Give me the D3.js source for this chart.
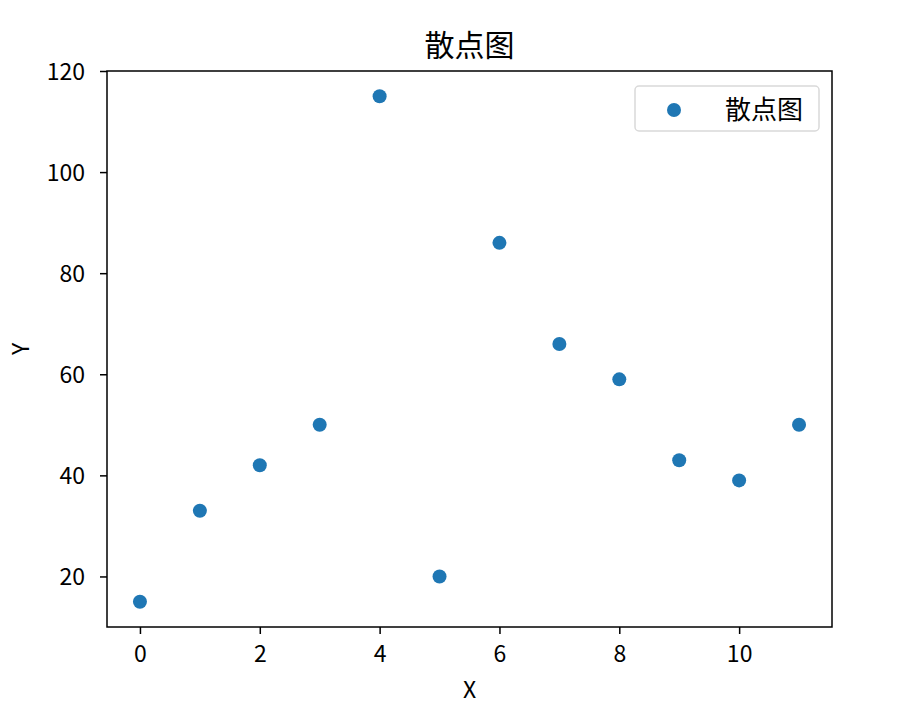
<!DOCTYPE html>
<html>
<head>
<meta charset="utf-8">
<script src="https://cdn.jsdelivr.net/npm/d3@7"></script>
<style>
  body { margin: 0; background: #fff; }
  svg { font-family: "Noto Sans CJK SC", "DejaVu Sans", sans-serif; }
</style>
</head>
<body>
<svg id="chart"></svg>
<script>
const xValues = [0, 1, 2, 3, 4, 5, 6, 7, 8, 9, 10, 11];
const yValues = [15, 33, 42, 50, 115, 20, 86, 66, 59, 43, 39, 50];
const xTicks = [0, 2, 4, 6, 8, 10];
const yTicks = [20, 40, 60, 80, 100, 120];
const seriesName = '散点图';

const width = 904, height = 705;
const margin = { top: 71, right: 72, bottom: 78, left: 107 };
const innerW = width - margin.left - margin.right;
const innerH = height - margin.top - margin.bottom;
const color = '#1f77b4';

const svg = d3.select('#chart')
  .attr('width', width)
  .attr('height', height);

const g = svg.append('g')
  .attr('transform', `translate(${margin.left},${margin.top})`);

const x = d3.scaleLinear().domain([-0.55, 11.55]).range([0, innerW]);
const y = d3.scaleLinear().domain([10, 120]).range([innerH, 0]);

const xAxis = g.append('g')
  .attr('transform', `translate(0,${innerH})`)
  .call(d3.axisBottom(x).tickValues(xTicks).tickSize(7).tickPadding(12).tickFormat(d3.format('d')));

const yAxis = g.append('g')
  .call(d3.axisLeft(y).tickValues(yTicks).tickSize(7).tickPadding(15).tickFormat(d3.format('d')));

[xAxis, yAxis].forEach(a => {
  a.select('.domain').remove();
  a.selectAll('line').attr('stroke', '#000').attr('stroke-width', 1.5);
  a.selectAll('text').attr('fill', '#000').style('font-size', '23px')
    .style('font-family', '"Noto Sans CJK SC", sans-serif');
});
yAxis.selectAll('text').attr('dy', '0.36em');

g.append('rect')
  .attr('width', innerW)
  .attr('height', innerH)
  .attr('fill', 'none')
  .attr('stroke', '#000')
  .attr('stroke-width', 1.5);

g.append('g')
  .selectAll('circle')
  .data(xValues.map((d, i) => ({ x: d, y: yValues[i] })))
  .enter()
  .append('circle')
  .attr('cx', d => x(d.x))
  .attr('cy', d => y(d.y))
  .attr('r', 7)
  .attr('fill', color);

svg.append('text')
  .attr('x', margin.left + innerW / 2)
  .attr('y', 56)
  .attr('text-anchor', 'middle')
  .style('font-size', '30px')
  .text('散点图');

svg.append('text')
  .attr('x', margin.left + innerW / 2)
  .attr('y', 698)
  .attr('text-anchor', 'middle')
  .style('font-size', '23px')
  .text('X');

svg.append('text')
  .attr('transform', `translate(29,${margin.top + innerH / 2}) rotate(-90)`)
  .attr('text-anchor', 'middle')
  .style('font-size', '23px')
  .text('Y');

const legend = svg.append('g')
  .attr('transform', `translate(635,86)`);

legend.append('rect')
  .attr('width', 184)
  .attr('height', 45)
  .attr('rx', 4)
  .attr('fill', '#fff')
  .attr('fill-opacity', 0.8)
  .attr('stroke', '#d9d9d9')
  .attr('stroke-width', 1.5);

legend.append('circle')
  .attr('cx', 39)
  .attr('cy', 24)
  .attr('r', 7)
  .attr('fill', color);

legend.append('text')
  .attr('x', 90)
  .attr('y', 33)
  .style('font-size', '26px')
  .text(seriesName);
</script>
</body>
</html>
